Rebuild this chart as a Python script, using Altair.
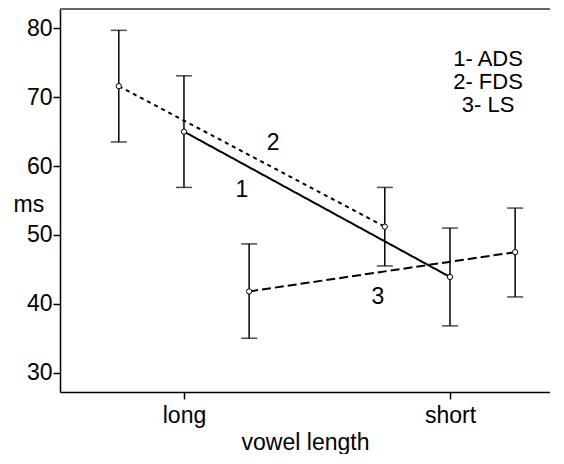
import altair as alt
import pandas as pd

categories = ["long", "short"]
groups = ["ADS", "FDS", "LS"]
group_labels = ["1", "2", "3"]
group_offsets = [0.0, -0.245, 0.245]

means = {"ADS": [65.0, 43.9], "FDS": [71.6, 51.2], "LS": [41.8, 47.5]}
upper = {"ADS": [73.1, 51.0], "FDS": [79.7, 56.9], "LS": [48.7, 53.9]}
lower = {"ADS": [56.9, 36.8], "FDS": [63.5, 45.5], "LS": [35.0, 41.0]}

# annotation labels placed near the lines (data coordinates)
label_x = [0.218, 0.335, 0.729]
label_y = [56.5, 63.3, 41.0]
legend_lines = ["1- ADS", "2- FDS", "3- LS"]
legend_y = [75.5, 72.2, 68.9]

rows = []
for g, off in zip(groups, group_offsets):
    for i, c in enumerate(categories):
        rows.append({"group": g, "cat": c, "pos": i + off,
                     "mean": means[g][i], "hi": upper[g][i], "lo": lower[g][i]})
df = pd.DataFrame(rows)

lab_df = pd.DataFrame({"t": group_labels, "x": label_x, "y": label_y})
leg_df = pd.DataFrame({"t": legend_lines, "x": [1.143] * 3, "y": legend_y})

FONT = "Liberation Sans"
FS = 23
W = 490

xscale = alt.Scale(domain=[-0.466, 1.376], nice=False, zero=False)
yscale = alt.Scale(domain=[27.2, 82.8], nice=False, zero=False)

x_axis = alt.Axis(values=[0, 1], labelExpr="datum.value == 0 ? 'long' : 'short'",
                  title="vowel length", grid=False, tickSize=7, labelPadding=5,
                  titlePadding=4, domainColor="black", tickColor="black",
                  labelFontSize=FS, titleFontSize=FS, labelFont=FONT, titleFont=FONT,
                  titleFontWeight="normal", labelColor="black", titleColor="black",
                  domainWidth=1.5, tickWidth=1.5)
y_axis = alt.Axis(values=[30, 40, 50, 60, 70, 80], title="ms", grid=False, tickSize=7,
                  labelPadding=1, titleAngle=0, titleAlign="left", titleBaseline="middle",
                  titleX=-47, titleY=195, domainColor="black", tickColor="black",
                  labelFontSize=FS, titleFontSize=FS, labelFont=FONT, titleFont=FONT,
                  titleFontWeight="normal", labelColor="black", titleColor="black",
                  domainWidth=1.5, tickWidth=1.5)

base = alt.Chart(df)

lines = base.mark_line(color="black", strokeWidth=2).encode(
    x=alt.X("pos:Q", scale=xscale, axis=x_axis),
    y=alt.Y("mean:Q", scale=yscale, axis=y_axis),
    detail="group:N",
    strokeDash=alt.StrokeDash("group:N", scale=alt.Scale(domain=groups,
                               range=[[1, 0], [4, 4], [9, 4]]), legend=None),
)

# top frame line (the reference shows no right border)
top_line = base.mark_rule(color="#666666", strokeWidth=1.2).encode(
    x=alt.value(0), x2=alt.value(W), y=alt.value(0))

bars = base.mark_rule(color="black", strokeWidth=1.5).encode(
    x="pos:Q", y="lo:Q", y2="hi:Q")
caps_hi = base.mark_tick(color="black", orient="horizontal", size=16, thickness=1.5).encode(
    x="pos:Q", y="hi:Q")
caps_lo = base.mark_tick(color="black", orient="horizontal", size=16, thickness=1.5).encode(
    x="pos:Q", y="lo:Q")

pts = base.mark_point(shape="circle", size=28, filled=True, fill="white",
                      stroke="black", strokeWidth=1, opacity=1).encode(
    x="pos:Q", y="mean:Q")

labels = alt.Chart(lab_df).mark_text(font=FONT, fontSize=FS, color="black",
                                     baseline="middle", align="center").encode(
    x="x:Q", y="y:Q", text="t:N")
legend = alt.Chart(leg_df).mark_text(font=FONT, fontSize=22, color="black",
                                     baseline="middle", align="center").encode(
    x="x:Q", y="y:Q", text="t:N")

chart = alt.layer(top_line, bars, caps_hi, caps_lo, lines, pts, labels, legend).properties(
    width=W, height=383,
    autosize=alt.AutoSizeParams(type="none"),
    padding={"left": 52, "top": 1, "right": 0, "bottom": 62},
).configure_view(strokeWidth=0).configure(background="white")

chart.save("out.html", embed_options={"renderer": "svg", "actions": False})
